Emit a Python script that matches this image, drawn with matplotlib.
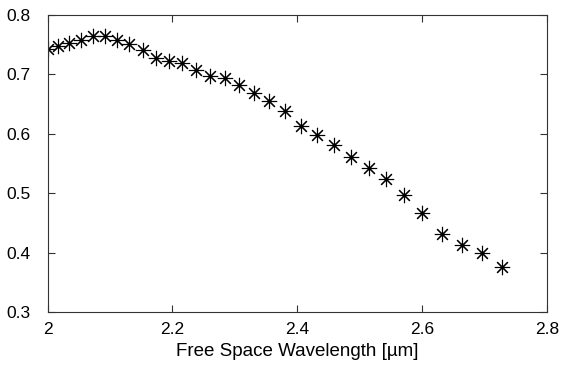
import matplotlib
matplotlib.use('Agg')
import matplotlib.pyplot as plt

# wavelength [um] and normalised values
wavelength = [2.000, 2.016, 2.035, 2.054, 2.073, 2.092, 2.112, 2.131, 2.153, 2.173,
              2.194, 2.215, 2.238, 2.260, 2.284, 2.307, 2.331, 2.355, 2.380, 2.406,
              2.431, 2.458, 2.486, 2.514, 2.542, 2.571, 2.600, 2.631, 2.663, 2.695,
              2.727]
values = [0.742, 0.748, 0.753, 0.758, 0.765, 0.765, 0.758, 0.751, 0.741, 0.728,
          0.723, 0.720, 0.707, 0.698, 0.694, 0.682, 0.668, 0.656, 0.639, 0.613,
          0.598, 0.581, 0.562, 0.542, 0.524, 0.497, 0.467, 0.431, 0.414, 0.399,
          0.376]

x_ticks = [2, 2.2, 2.4, 2.6, 2.8]
x_ticklabels = ['2', '2.2', '2.4', '2.6', '2.8']
y_ticks = [0.3, 0.4, 0.5, 0.6, 0.7, 0.8]
y_ticklabels = ['0.3', '0.4', '0.5', '0.6', '0.7', '0.8']

plt.rcParams['font.family'] = ['Liberation Sans', 'DejaVu Sans']

fig = plt.figure(figsize=(5.63, 3.66), dpi=100)
ax = fig.add_axes([0.0844, 0.1467, 0.8877, 0.8123])

ax.plot(wavelength, values, linestyle='none', marker=(8, 2, 0),
        markersize=11, markeredgewidth=0.8, color='black')

ax.set_xlim(2, 2.8)
ax.set_ylim(0.3, 0.8)
ax.set_xticks(x_ticks)
ax.set_xticklabels(x_ticklabels)
ax.set_yticks(y_ticks)
ax.set_yticklabels(y_ticklabels)
ax.tick_params(direction='in', length=5, width=0.8, top=True, right=True,
               labelsize=12.5, color='#333333')
ax.tick_params(axis='x', pad=7)
ax.tick_params(axis='y', pad=12)
for s in ax.spines.values():
    s.set_color('#333333')
    s.set_linewidth(0.8)

ax.set_xlabel('Free Space Wavelength [\u00b5m]', fontsize=13.5, labelpad=4)

fig.savefig('out.png', dpi=100)
